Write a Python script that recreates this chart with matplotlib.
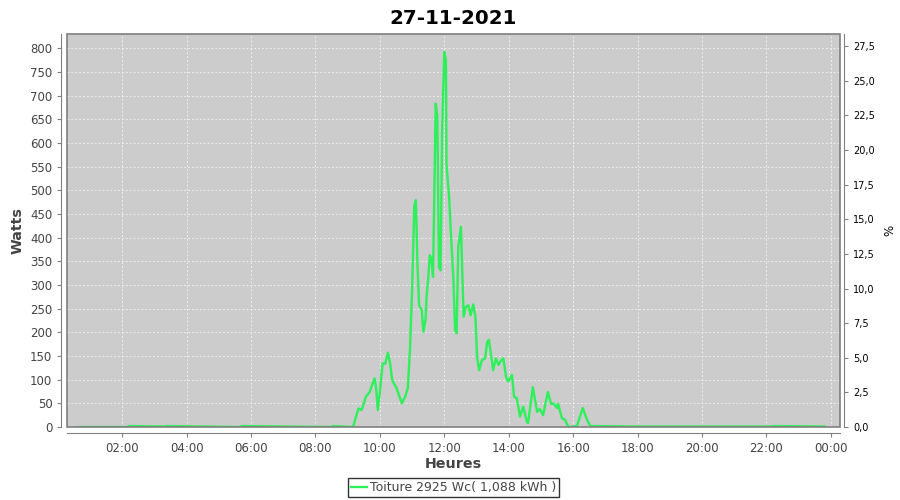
#!/usr/bin/env python
# coding=utf-8

import matplotlib
matplotlib.use("Agg")
import matplotlib.pyplot as plt
from matplotlib.patches import Rectangle
from matplotlib.ticker import FuncFormatter

title = "27-11-2021"
peak_wc = 2925
legend_label = "Toiture 2925 Wc( 1,088 kWh )"

# readings (time of day, watts)
times = ["00:41", "02:10", "02:12", "03:20", "03:22", "05:40", "05:42",
         "08:30", "08:32", "09:10", "09:20", "09:26", "09:34", "09:41",
         "09:50", "09:53", "09:56", "10:00", "10:05", "10:10", "10:15",
         "10:19", "10:23", "10:31", "10:41", "10:47", "10:52", "10:56",
         "11:00", "11:04", "11:07", "11:10", "11:13", "11:18", "11:21",
         "11:25", "11:27", "11:30", "11:33", "11:36", "11:39", "11:44",
         "11:47", "11:50", "11:53", "11:56", "12:00", "12:03", "12:04",
         "12:09", "12:12", "12:17", "12:20", "12:23", "12:26", "12:31",
         "12:33", "12:36", "12:40", "12:45", "12:49", "12:54", "12:58",
         "13:01", "13:05", "13:10", "13:16", "13:20", "13:23", "13:28",
         "13:31", "13:36", "13:41", "13:46", "13:50", "13:55", "13:59",
         "14:06", "14:10", "14:15", "14:21", "14:27", "14:34", "14:36",
         "14:45", "14:53", "14:58", "15:04", "15:13", "15:19", "15:24",
         "15:30", "15:32", "15:39", "15:45", "15:51", "16:07", "16:18",
         "16:26", "16:32", "18:00", "22:10", "22:12", "23:49"]
watts = [0, 0, 2, 1, 2, 0, 2,
         0, 2, 0, 39, 36, 64, 74,
         103, 82, 36, 74, 134, 134, 157,
         134, 99, 82, 50, 64, 82, 162,
         289, 465, 479, 345, 257, 247, 201,
         226, 275, 314, 363, 356, 317, 683,
         655, 338, 331, 627, 792, 774, 556,
         486, 416, 310, 205, 198, 380, 423,
         346, 233, 254, 257, 236, 259, 233,
         148, 120, 141, 145, 180, 184, 145,
         120, 145, 131, 141, 145, 106, 96,
         110, 64, 61, 22, 43, 11, 8,
         84, 32, 38, 25, 74, 49, 49,
         40, 49, 19, 15, 0, 2, 40,
         15, 2, 1, 1, 2, 1]

xticks = [2, 4, 6, 8, 10, 12, 14, 16, 18, 20, 22, 24]
xlabels = ["02:00", "04:00", "06:00", "08:00", "10:00", "12:00",
           "14:00", "16:00", "18:00", "20:00", "22:00", "00:00"]


def to_hours(s):
    h, m = s.split(":")
    return int(h) + int(m) / 60.0


def main():
    hours = [to_hours(t) for t in times]
    grey = "#444444"
    edge = "#808080"

    fig = plt.figure(figsize=(9, 5), dpi=100)
    ax = fig.add_axes([0.0744, 0.146, 0.8589, 0.786])
    ax.set_facecolor("#cccccc")

    ax.plot(hours, watts, color="#2ef05a", lw=1.7, solid_joinstyle="round")

    ax.set_xlim(0.283, 24.286)
    ax.set_ylim(0, 830)
    ax.set_xticks(xticks)
    ax.set_xticklabels(xlabels)
    ax.set_yticks(range(0, 801, 50))
    ax.grid(True, color="#eeeeee", ls=(0, (2, 2)), lw=0.7)
    ax.set_axisbelow(True)

    for s in ["top", "right"]:
        ax.spines[s].set_visible(False)
    ax.spines["left"].set_position(("outward", 4))
    ax.spines["bottom"].set_position(("outward", 4))
    ax.spines["left"].set_color(edge)
    ax.spines["bottom"].set_color(edge)
    ax.add_patch(Rectangle((0, 0), 1, 1, transform=ax.transAxes, fill=False,
                           edgecolor=edge, lw=1.2, zorder=5, clip_on=False))

    ax.tick_params(axis="both", colors=edge, labelcolor=grey, labelsize=8.5,
                   length=3, width=0.8)
    ax.set_xlabel("Heures", fontsize=10.3, fontweight="bold", color=grey, labelpad=2)
    ax.set_ylabel("Watts", fontsize=10.3, fontweight="bold", color=grey, labelpad=4)
    ax.set_title(title, fontsize=14.3, fontweight="bold", pad=7)

    ax2 = ax.twinx()
    ax2.set_ylim(0, 830.0 / peak_wc * 100)
    ax2.set_yticks([i * 2.5 for i in range(12)])
    ax2.yaxis.set_major_formatter(FuncFormatter(lambda v, p: ("%.1f" % v).replace(".", ",")))
    for s in ["top", "left", "bottom"]:
        ax2.spines[s].set_visible(False)
    ax2.spines["right"].set_position(("outward", 3))
    ax2.spines["right"].set_color(edge)
    ax2.tick_params(axis="y", colors=edge, labelcolor="black", labelsize=7,
                    length=3, width=0.8)
    ax2.set_ylabel("%", fontsize=8.5, color="black", labelpad=6)

    leg = ax.legend([ax.lines[0]], [legend_label], loc="upper center",
                    bbox_to_anchor=(0.5, -0.13), frameon=True, fancybox=False,
                    fontsize=9, handlelength=1.3, handletextpad=0.2,
                    borderpad=0.25, borderaxespad=0)
    leg.get_frame().set_edgecolor("black")
    leg.get_frame().set_linewidth(1)
    for t in leg.get_texts():
        t.set_color(grey)

    fig.savefig("out.png", dpi=100)


if __name__ == '__main__':
    main()
